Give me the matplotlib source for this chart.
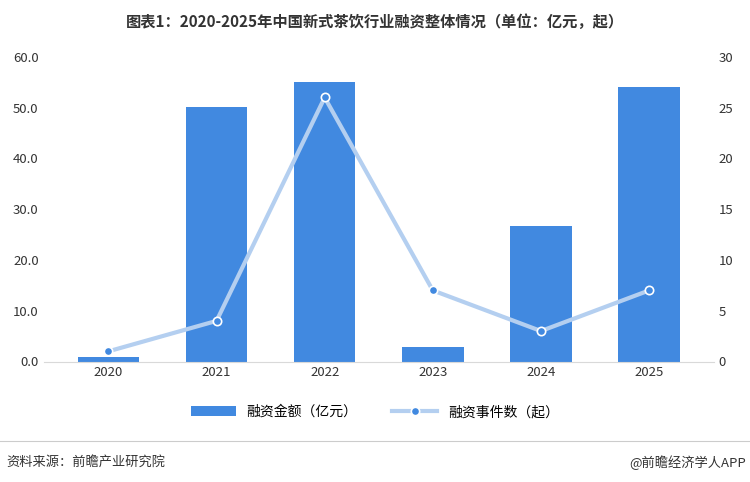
import matplotlib.pyplot as plt
import numpy as np

plt.rcParams['font.family'] = ['Noto Sans CJK SC', 'DejaVu Sans']

years = ['2020', '2021', '2022', '2023', '2024', '2025']
amount = [0.9, 50.2, 55.0, 2.8, 26.7, 54.0]
events = [1, 4, 26, 7, 3, 7]

fig = plt.figure(figsize=(7.5, 4.82), dpi=100)
ax = fig.add_axes([0.058, 0.25, 0.894, 0.632])
x = np.arange(len(years))
ax.bar(x, amount, width=0.57, color='#4189e0', label='融资金额（亿元）', zorder=2)
ax.set_ylim(0, 60)
ax.set_yticks(np.arange(0, 61, 10))
ax.set_yticklabels([f'{v:.1f}' for v in np.arange(0, 61, 10)])
ax.set_xlim(-0.6, 5.6)
ax.set_xticks(x)
ax.set_xticklabels(years)

ax2 = ax.twinx()
ax2.plot(x, events, color='#b4cff0', lw=3, marker='o', markersize=6,
         markerfacecolor='#4189e0', markeredgecolor='white', markeredgewidth=1.2,
         label='融资事件数（起）', zorder=3)
ax2.set_ylim(0, 30)
ax2.set_yticks(range(0, 31, 5))

for a in (ax, ax2):
    for s in a.spines.values():
        s.set_visible(False)
    a.tick_params(length=0, labelsize=9.5, colors='#333333')
ax.spines['bottom'].set_visible(True)
ax.spines['bottom'].set_color('#d9d9d9')

h1, l1 = ax.get_legend_handles_labels()
h2, l2 = ax2.get_legend_handles_labels()
fig.legend(h1 + h2, l1 + l2, loc='center', bbox_to_anchor=(0.5, 0.145), ncol=2,
           frameon=False, fontsize=10, handlelength=3.2, columnspacing=2.5)

fig.text(0.5, 0.955, '图表1：2020-2025年中国新式茶饮行业融资整体情况（单位：亿元，起）',
         ha='center', va='center', fontsize=11, fontweight='bold', color='#333333')
fig.text(0.008, 0.04, '资料来源：前瞻产业研究院', fontsize=9.5, color='#333333', va='center')
fig.text(0.995, 0.04, '@前瞻经济学人APP', fontsize=9.5, color='#333333', va='center', ha='right')
fig.add_artist(plt.Line2D([0, 1], [0.085, 0.085], color='#cccccc', lw=0.8))

fig.savefig('out.png')
